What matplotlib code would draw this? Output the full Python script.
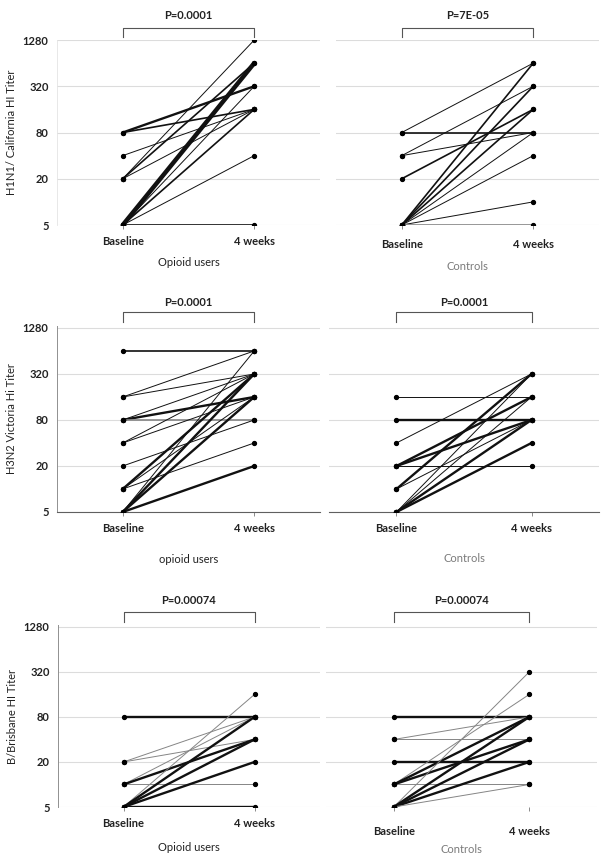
#!/usr/bin/env python3

import numpy as np
import matplotlib as mpl
import matplotlib.pyplot as plt

mpl.use("Agg")
plt.rcParams["font.family"] = ["Lato", "DejaVu Sans"]

timepoints = ["Baseline", "4 weeks"]
titer_ticks = [5, 20, 80, 320, 1280]

# H1N1 / California, opioid users: baseline titer, 4-week titer, number of subjects
h1_opi_base = [80, 80, 40, 20, 20, 20, 5, 5, 5, 5, 5]
h1_opi_wk4 = [320, 160, 160, 1280, 640, 160, 640, 320, 160, 40, 5]
h1_opi_n = [3, 2, 1, 1, 2, 1, 6, 1, 2, 1, 2]
h1_opi_grey = [0, 0, 0, 0, 0, 0, 0, 0, 0, 0, 0]

# H1N1 / California, controls
h1_ctl_base = [80, 80, 40, 40, 20, 5, 5, 5, 5, 5, 5, 5]
h1_ctl_wk4 = [640, 80, 320, 80, 160, 640, 320, 160, 80, 40, 10, 5]
h1_ctl_n = [1, 2, 1, 1, 2, 2, 2, 2, 1, 1, 1, 2]
h1_ctl_grey = [0, 0, 0, 0, 0, 0, 0, 0, 0, 0, 0, 1]

# H3N2 / Victoria, opioid users
h3_opi_base = [640, 160, 160, 80, 80, 80, 40, 40, 20, 10, 10, 10, 5, 5, 5, 5]
h3_opi_wk4 = [640, 640, 320, 160, 80, 320, 320, 160, 80, 320, 40, 160, 640, 320, 160, 20]
h3_opi_n = [2, 1, 1, 3, 2, 1, 1, 1, 1, 3, 1, 1, 1, 3, 3, 3]
h3_opi_grey = [0, 0, 0, 0, 1, 0, 0, 0, 0, 0, 0, 0, 0, 0, 0, 0]

# H3N2 / Victoria, controls
h3_ctl_base = [160, 80, 40, 20, 20, 20, 10, 10, 5, 5, 5, 5]
h3_ctl_wk4 = [160, 80, 320, 160, 80, 20, 320, 80, 320, 160, 80, 40]
h3_ctl_n = [1, 3, 1, 3, 3, 1, 3, 1, 1, 1, 3, 3]
h3_ctl_grey = [0, 0, 0, 0, 0, 0, 0, 0, 0, 0, 0, 0]

# B / Brisbane, opioid users
b_opi_base = [80, 20, 20, 10, 10, 10, 5, 5, 5, 5, 5]
b_opi_wk4 = [80, 80, 40, 80, 40, 10, 160, 80, 40, 20, 5]
b_opi_n = [3, 1, 1, 1, 3, 1, 1, 3, 3, 3, 3]
b_opi_grey = [0, 1, 1, 1, 0, 1, 1, 0, 0, 0, 0]

# B / Brisbane, controls
b_ctl_base = [80, 40, 40, 20, 10, 10, 10, 10, 5, 5, 5, 5, 5]
b_ctl_wk4 = [80, 80, 40, 20, 160, 80, 40, 10, 320, 80, 40, 20, 10]
b_ctl_n = [3, 1, 1, 3, 1, 3, 3, 1, 1, 3, 3, 3, 1]
b_ctl_grey = [0, 1, 1, 0, 1, 0, 0, 1, 1, 0, 0, 0, 1]

fig = plt.figure(figsize=(6.08, 8.64), dpi=100)
W, H = 608.0, 864.0
FS = 8


def add_ax(x0, x1, top, bottom):
    return fig.add_axes([x0 / W, 1 - bottom / H, (x1 - x0) / W, (bottom - top) / H])


def draw_panel(ax, base, wk4, n, grey, pval, group, ylabel=None, group_grey=False,
               bracket=(1.016, 1.065), ptext_y=1.13, tick_pad=5, group_y=-0.2,
               axis_dark=False, ytop=1280):
    ax.set_yscale("log", base=2)
    ax.set_ylim(5, ytop)
    ax.set_xlim(0, 2)
    for t in titer_ticks:
        ax.axhline(t, color="#dcdcdc", lw=0.8, zorder=0)
    for b, w, k, g in zip(base, wk4, n, grey):
        col = "#858585" if g else "#111111"
        ax.plot([0.5, 1.5], [b, w], color=col, lw=0.7 + 0.5 * (k - 1), zorder=2,
                solid_capstyle="round")
    ax.plot([0.5] * len(base), base, "o", color="black", ms=2.8, zorder=3)
    ax.plot([1.5] * len(wk4), wk4, "o", color="black", ms=2.8, zorder=3)

    for s in ["top", "right", "left", "bottom"]:
        ax.spines[s].set_visible(False)
    if axis_dark:
        ax.spines["bottom"].set_visible(True)
        ax.spines["bottom"].set_color("#606060")
        ax.spines["bottom"].set_linewidth(0.8)

    ax.set_xticks([0.5, 1.5])
    ax.set_xticklabels(timepoints, fontsize=FS, fontweight="bold", color="#222222")
    ax.tick_params(axis="x", length=3, width=0.6, color="#777777", pad=tick_pad)
    ax.yaxis.set_minor_locator(mpl.ticker.NullLocator())
    if ylabel is not None:
        ax.set_yticks(titer_ticks)
        ax.set_yticklabels([str(t) for t in titer_ticks], fontsize=FS, fontweight="bold",
                           color="#222222")
        ax.tick_params(axis="y", length=0, pad=6)
        ax.set_ylabel(ylabel, fontsize=FS, color="#222222", labelpad=4)
    else:
        ax.set_yticks([])

    # significance bracket
    tr = ax.get_xaxis_transform()
    ax.plot([0.5, 0.5, 1.5, 1.5], [bracket[0], bracket[1], bracket[1], bracket[0]],
            transform=tr, color="#555555", lw=0.8, clip_on=False)
    ax.text(1.0, ptext_y, pval, transform=tr, ha="center", va="center", fontsize=FS,
            fontweight="bold", color="#222222")
    ax.text(1.0, group_y, group, transform=tr, ha="center", va="center", fontsize=FS,
            color="#7a7a7a" if group_grey else "#222222")


ax1 = add_ax(57, 320, 40, 225)
draw_panel(ax1, h1_opi_base, h1_opi_wk4, h1_opi_n, h1_opi_grey, "P=0.0001", "Opioid users",
           ylabel="H1N1/ California HI Titer", bracket=(1.016, 1.065), ptext_y=1.135,
           group_y=-0.205)
ax1.spines["left"].set_visible(True)
ax1.spines["left"].set_color("#e4e4e4")
ax1.spines["left"].set_linewidth(0.6)

ax2 = add_ax(336, 599, 40, 225)
draw_panel(ax2, h1_ctl_base, h1_ctl_wk4, h1_ctl_n, h1_ctl_grey, "P=7E-05", "Controls",
           group_grey=True, bracket=(1.016, 1.065), ptext_y=1.135, tick_pad=7, group_y=-0.227)

ax3 = add_ax(57, 320, 326, 512)
draw_panel(ax3, h3_opi_base, h3_opi_wk4, h3_opi_n, h3_opi_grey, "P=0.0001", "opioid users",
           ylabel="H3N2 Victoria Hi Titer", bracket=(1.022, 1.075), ptext_y=1.129,
           group_y=-0.255, axis_dark=True, ytop=1280 * 1.06)
ax3.spines["left"].set_visible(True)
ax3.spines["left"].set_color("#909090")
ax3.spines["left"].set_linewidth(0.7)

ax4 = add_ax(329, 599, 326, 512)
draw_panel(ax4, h3_ctl_base, h3_ctl_wk4, h3_ctl_n, h3_ctl_grey, "P=0.0001", "Controls",
           group_grey=True, bracket=(1.022, 1.075), ptext_y=1.129, group_y=-0.25,
           axis_dark=True, ytop=1280 * 1.06)

ax5 = add_ax(58, 320, 625, 807)
draw_panel(ax5, b_opi_base, b_opi_wk4, b_opi_n, b_opi_grey, "P=0.00074", "Opioid users",
           ylabel="B/Brisbane HI Titer", bracket=(1.016, 1.071), ptext_y=1.137,
           group_y=-0.22, ytop=1280 * 1.06)
ax5.spines["left"].set_visible(True)
ax5.spines["left"].set_color("#909090")
ax5.spines["left"].set_linewidth(0.7)

ax6 = add_ax(326, 597, 625, 807)
draw_panel(ax6, b_ctl_base, b_ctl_wk4, b_ctl_n, b_ctl_grey, "P=0.00074", "Controls",
           group_grey=True, bracket=(1.016, 1.071), ptext_y=1.137, tick_pad=11, group_y=-0.236,
           ytop=1280 * 1.06)

plt.savefig("out.png", dpi=100)
